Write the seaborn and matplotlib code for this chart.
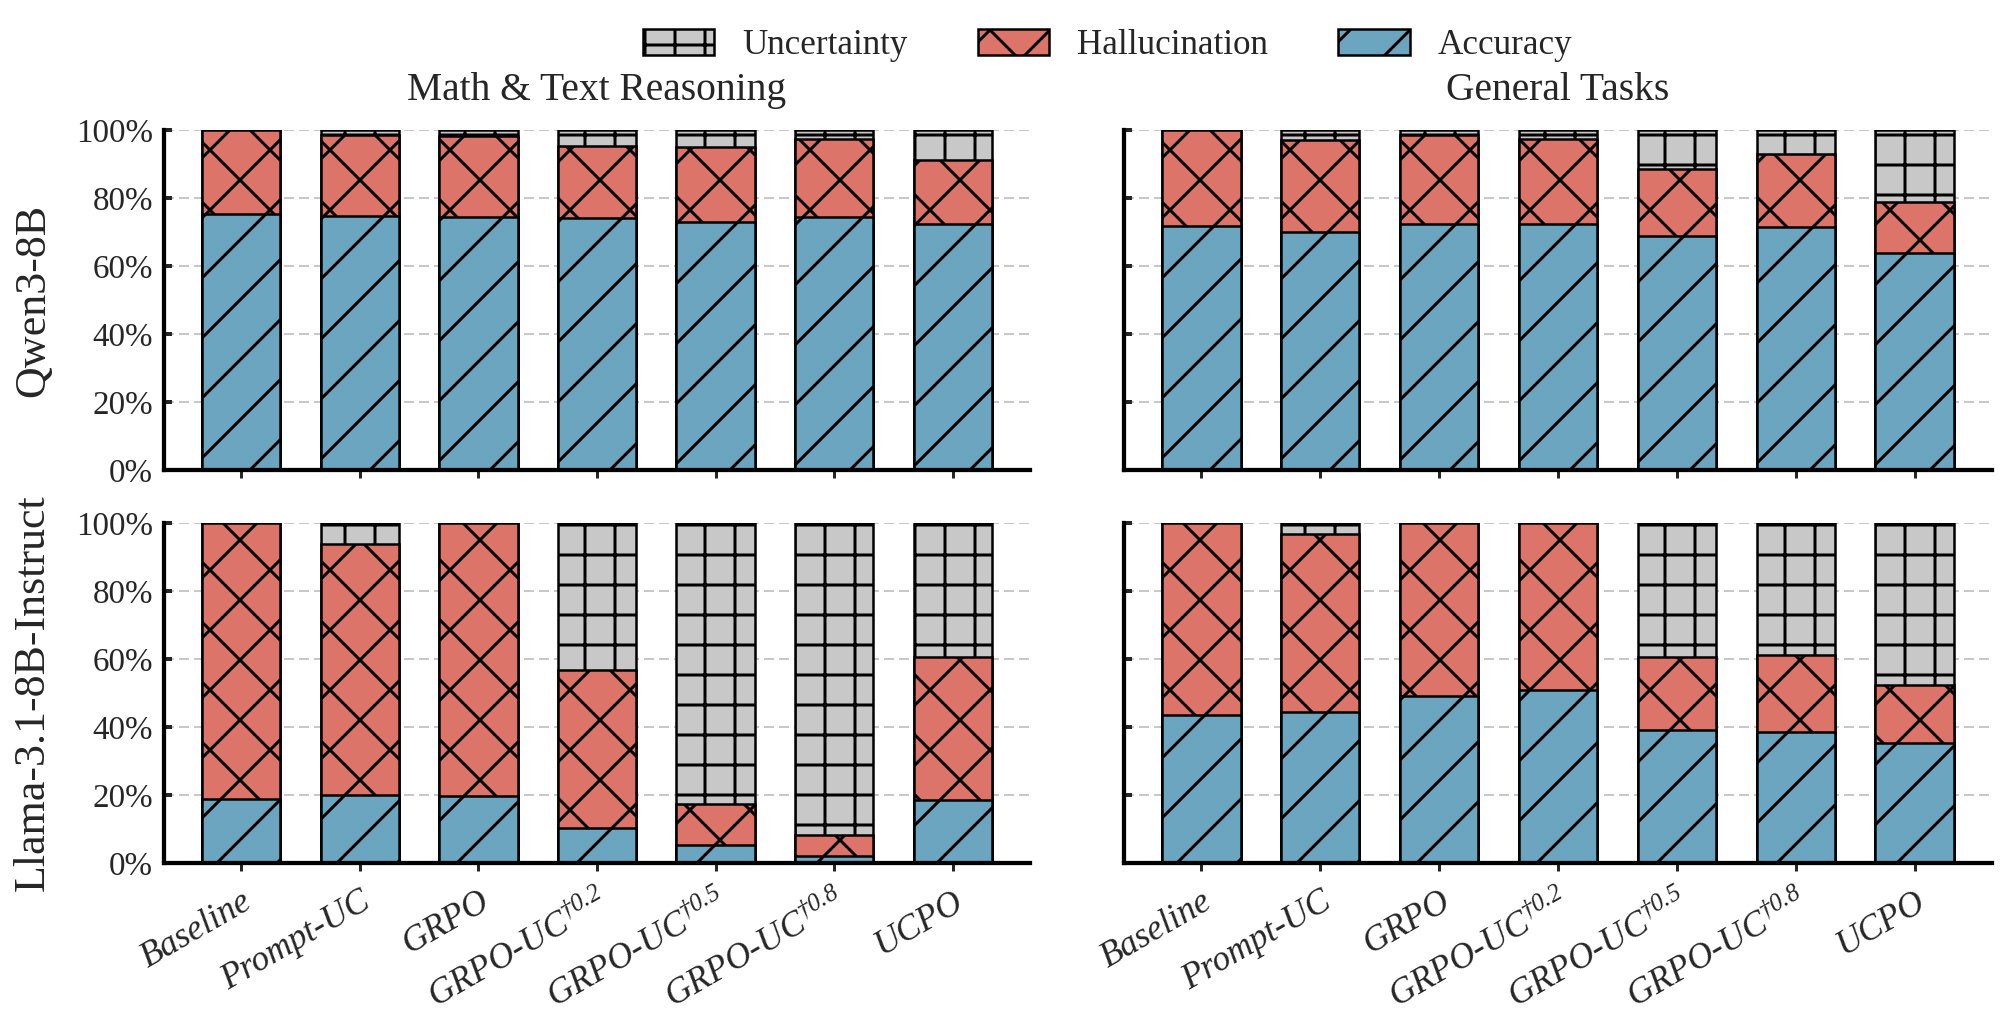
import numpy as np
import pandas as pd
import matplotlib
matplotlib.use("Agg")
import matplotlib.pyplot as plt
import seaborn as sns
from matplotlib.patches import Patch

# ---------------- data ----------------
methods = ["Baseline", "Prompt-UC", "GRPO", "GRPO-UC†0.2", "GRPO-UC†0.5", "GRPO-UC†0.8", "UCPO"]
tick_labels = ["Baseline", "Prompt-UC", "GRPO", "GRPO-UC$^{†0.2}$",
               "GRPO-UC$^{†0.5}$", "GRPO-UC$^{†0.8}$", "UCPO"]
row_labels = ["Qwen3-8B", "Llama-3.1-8B-Instruct"]
col_titles = ["Math & Text Reasoning", "General Tasks"]
series_names = ["Uncertainty", "Hallucination", "Accuracy"]

qwen_math_acc = [75.3, 74.7, 74.3, 74.0, 72.8, 74.3, 72.5]
qwen_math_hall = [24.7, 23.7, 23.9, 21.3, 22.2, 23.2, 18.7]
qwen_math_unc = [0.0, 1.6, 1.8, 4.7, 5.0, 2.5, 8.8]

qwen_gen_acc = [71.9, 70.1, 72.4, 72.4, 68.8, 71.6, 63.7]
qwen_gen_hall = [28.1, 27.0, 26.1, 25.0, 19.6, 21.4, 15.0]
qwen_gen_unc = [0.0, 2.9, 1.5, 2.6, 11.6, 7.0, 21.3]

llama_math_acc = [18.9, 20.1, 19.8, 10.3, 5.2, 2.1, 18.6]
llama_math_hall = [81.1, 73.8, 80.2, 46.6, 12.2, 6.1, 42.1]
llama_math_unc = [0.0, 6.1, 0.0, 43.1, 82.6, 91.8, 39.3]

llama_gen_acc = [43.5, 44.3, 49.1, 50.8, 39.1, 38.5, 35.2]
llama_gen_hall = [56.5, 52.4, 50.9, 49.2, 21.6, 22.7, 17.3]
llama_gen_unc = [0.0, 3.3, 0.0, 0.0, 39.3, 38.8, 47.5]

# ---------------- style ----------------
sns.set_style("white")
plt.rcParams["font.family"] = ["Liberation Serif", "DejaVu Serif"]
plt.rcParams["mathtext.fontset"] = "custom"
plt.rcParams["mathtext.rm"] = "Liberation Serif:italic"
plt.rcParams["mathtext.it"] = "Liberation Serif:italic"
plt.rcParams["hatch.linewidth"] = 0.6

colors = {"Uncertainty": "#C8C8C8", "Hallucination": "#DD746A", "Accuracy": "#6BA5C0"}
hatches = {"Uncertainty": "++", "Hallucination": "xx", "Accuracy": "//"}

DPI = 360
fig = plt.figure(figsize=(2010 / DPI, 1029 / DPI), dpi=DPI)

W, H = 2010, 1029
col_x = [(164, 1030), (1124, 1992)]
row_y = [(130, 470), (523, 863)]

panel_data = [
    [(qwen_math_acc, qwen_math_hall, qwen_math_unc), (qwen_gen_acc, qwen_gen_hall, qwen_gen_unc)],
    [(llama_math_acc, llama_math_hall, llama_math_unc), (llama_gen_acc, llama_gen_hall, llama_gen_unc)],
]

for r in range(2):
    for c in range(2):
        x0, x1 = col_x[c]
        y0, y1 = row_y[r]
        ax = fig.add_axes([x0 / W, 1 - y1 / H, (x1 - x0) / W, (y1 - y0) / H])
        acc, hall, unc = panel_data[r][c]
        df = pd.DataFrame({
            "method": methods,
            "acc": acc,
            "acc_hall": np.array(acc) + np.array(hall),
            "total": np.array(acc) + np.array(hall) + np.array(unc),
        })
        for col, name in [("total", "Uncertainty"), ("acc_hall", "Hallucination"), ("acc", "Accuracy")]:
            sns.barplot(data=df, x="method", y=col, order=methods, color=colors[name],
                        saturation=1, width=0.66, edgecolor="black", linewidth=0.5,
                        hatch=hatches[name], errorbar=None, ax=ax, zorder=2)
        ax.set_xlim(-0.65, 6.65)
        ax.set_ylim(0, 100)
        ax.set_axisbelow(True)
        ax.yaxis.grid(True, linestyle=(0, (5, 2.5)), linewidth=0.4, color="#C8C8C8", zorder=0)
        ax.xaxis.grid(False)
        for s in ["top", "right"]:
            ax.spines[s].set_visible(False)
        for s in ["left", "bottom"]:
            ax.spines[s].set_linewidth(0.85)
            ax.spines[s].set_color("black")
        ax.set_xlabel("")
        ax.set_ylabel("")
        ax.set_yticks([0, 20, 40, 60, 80, 100])
        ax.tick_params(axis="y", direction="in", length=1.6, width=0.8, pad=2.2,
                       labelsize=6.6, left=True)
        ax.tick_params(axis="x", direction="out", length=1.6, width=0.6, pad=2.8,
                       labelsize=7.1, bottom=True)
        if c == 0:
            ax.set_yticklabels([f"{v}%" for v in [0, 20, 40, 60, 80, 100]])
            ax.set_ylabel(row_labels[r], fontsize=8.8)
            ax.yaxis.set_label_coords(-0.128, 0.5)
        else:
            ax.set_yticklabels([])
        ax.set_xticks(range(len(methods)))
        if r == 1:
            ax.set_xticklabels(tick_labels, rotation=30, ha="right",
                               rotation_mode="anchor", fontstyle="italic")
        else:
            ax.set_xticklabels([])
            ax.set_title(col_titles[c], fontsize=7.9, pad=6)

handles = [Patch(facecolor=colors[n], edgecolor="black", linewidth=0.5, hatch=hatches[n])
           for n in series_names]
fig.legend(handles, series_names, loc="center", bbox_to_anchor=(0.551, 0.956), ncol=3,
           frameon=False, fontsize=7.0, handlelength=2.05, handleheight=0.77,
           handletextpad=0.8, columnspacing=2.0)

fig.savefig("out.png", dpi=DPI)
